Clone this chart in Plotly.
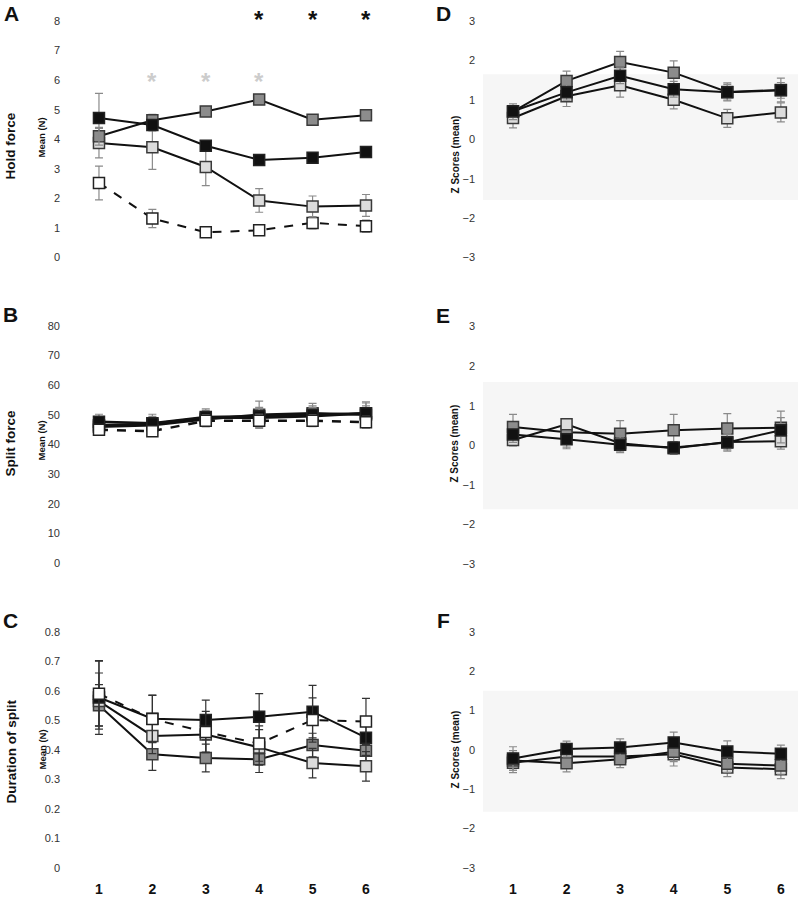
import plotly.graph_objects as go

W, H = 798, 897

sessions = [1, 2, 3, 4, 5, 6]

# A - hold force (N)
hold_white = [2.52, 1.32, 0.85, 0.92, 1.17, 1.06]
hold_white_err = [0.57, 0.31, 0.12, 0.12, 0.2, 0.2]
hold_light = [3.87, 3.73, 3.06, 1.93, 1.72, 1.76]
hold_light_err = [0.5, 0.75, 0.63, 0.4, 0.36, 0.37]
hold_gray = [4.1, 4.64, 4.94, 5.34, 4.66, 4.81]
hold_gray_err = [0.3, 0.2, 0.15, 0.15, 0.12, 0.12]
hold_black = [4.72, 4.48, 3.78, 3.3, 3.37, 3.57]
hold_black_err = [0.83, 0.2, 0.15, 0.12, 0.12, 0.12]
stars_black_x = [4, 5, 6]
stars_gray_x = [2, 3, 4]

# B - split force (N)
split_white = [45.0, 44.5, 48.0, 48.0, 48.0, 47.5]
split_white_err = [1.5, 1.8, 2.0, 2.2, 2.0, 2.0]
split_light = [46.0, 46.5, 48.5, 50.0, 50.5, 50.0]
split_light_err = [2.5, 2.5, 2.5, 4.6, 2.5, 3.0]
split_gray = [46.5, 47.0, 49.0, 49.0, 49.5, 50.5]
split_gray_err = [2.5, 2.5, 2.5, 3.0, 3.0, 3.5]
split_black = [47.7, 47.2, 49.3, 49.5, 50.0, 50.5]
split_black_err = [2.5, 3.0, 2.7, 3.0, 3.9, 3.9]

# C - duration of split
dur_gray = [0.551, 0.385, 0.372, 0.368, 0.416, 0.397]
dur_gray_err = [0.07, 0.055, 0.047, 0.045, 0.04, 0.04]
dur_light = [0.565, 0.447, 0.452, 0.408, 0.355, 0.344]
dur_light_err = [0.095, 0.06, 0.06, 0.06, 0.05, 0.05]
dur_black = [0.577, 0.505, 0.501, 0.512, 0.529, 0.441]
dur_black_err = [0.125, 0.08, 0.067, 0.078, 0.089, 0.06]
dur_white = [0.59, 0.504, 0.46, 0.421, 0.501, 0.496]
dur_white_err = [0.11, 0.08, 0.07, 0.06, 0.075, 0.078]

# D - z scores, hold force
zd_light = [0.54, 1.09, 1.37, 1.0, 0.53, 0.68]
zd_light_err = [0.25, 0.26, 0.3, 0.23, 0.23, 0.24]
zd_gray = [0.7, 1.48, 1.96, 1.69, 1.2, 1.25]
zd_gray_err = [0.2, 0.25, 0.27, 0.3, 0.23, 0.3]
zd_black = [0.71, 1.19, 1.61, 1.27, 1.19, 1.24]
zd_black_err = [0.15, 0.2, 0.2, 0.2, 0.2, 0.2]

# E - z scores, split force
ze_gray = [0.46, 0.33, 0.29, 0.38, 0.42, 0.44]
ze_gray_err = [0.32, 0.25, 0.33, 0.4, 0.38, 0.42]
ze_light = [0.13, 0.53, 0.05, -0.08, 0.08, 0.1]
ze_light_err = [0.15, 0.1, 0.2, 0.15, 0.2, 0.2]
ze_light_err_minus = [0.15, 0.62, 0.2, 0.15, 0.2, 0.2]
ze_black = [0.27, 0.15, 0.01, -0.06, 0.07, 0.38]
ze_black_err = [0.2, 0.2, 0.2, 0.15, 0.22, 0.32]

# F - z scores, duration of split
zf_light = [-0.33, -0.17, -0.17, -0.11, -0.45, -0.49]
zf_light_err = [0.25, 0.2, 0.2, 0.3, 0.23, 0.24]
zf_gray = [-0.27, -0.34, -0.24, -0.05, -0.35, -0.4]
zf_gray_err = [0.25, 0.22, 0.21, 0.25, 0.22, 0.22]
zf_black = [-0.22, 0.02, 0.06, 0.19, -0.04, -0.1]
zf_black_err = [0.3, 0.2, 0.22, 0.26, 0.27, 0.22]

FILLS = {'white': '#ffffff', 'light': '#dcdcdc', 'gray': '#8c8c8c', 'black': '#111111'}
FONT = 'Liberation Sans'


def px(p):
    # pixel -> paper fraction
    return p / W


def py(p):
    return 1 - p / H


def add_series(fig, ax, y, err, kind, dash='solid', err_color='#8a8a8a', lw=2, err_minus=None):
    err_y = dict(type='data', array=err, color=err_color, thickness=1.2, width=4)
    if err_minus is not None:
        err_y['symmetric'] = False
        err_y['arrayminus'] = err_minus
    fig.add_trace(go.Scatter(
        x=sessions, y=y, xaxis='x' + ax, yaxis='y' + ax,
        mode='lines+markers',
        line=dict(color='#111111', width=lw, dash=dash),
        marker=dict(symbol='square', size=11, color=FILLS[kind],
                    line=dict(color='#222222' if kind in ('white', 'black') else '#3a3a3a', width=1.5)),
        error_y=err_y,
        showlegend=False, cliponaxis=False,
    ))


fig = go.Figure()

# A
add_series(fig, '', hold_white, hold_white_err, 'white', dash='dash')
add_series(fig, '', hold_light, hold_light_err, 'light')
add_series(fig, '', hold_gray, hold_gray_err, 'gray')
add_series(fig, '', hold_black, hold_black_err, 'black')
# B
add_series(fig, '2', split_light, split_light_err, 'light', lw=2.5)
add_series(fig, '2', split_gray, split_gray_err, 'gray', lw=2.5)
add_series(fig, '2', split_black, split_black_err, 'black', lw=2.5)
add_series(fig, '2', split_white, split_white_err, 'white', dash='dash', lw=2.5)
# C
add_series(fig, '3', dur_gray, dur_gray_err, 'gray', err_color='#333333')
add_series(fig, '3', dur_light, dur_light_err, 'light', err_color='#333333')
add_series(fig, '3', dur_black, dur_black_err, 'black', err_color='#333333')
add_series(fig, '3', dur_white, dur_white_err, 'white', dash='dash', err_color='#333333')
# D
add_series(fig, '4', zd_light, zd_light_err, 'light')
add_series(fig, '4', zd_gray, zd_gray_err, 'gray')
add_series(fig, '4', zd_black, zd_black_err, 'black')
# E
add_series(fig, '5', ze_gray, ze_gray_err, 'gray')
add_series(fig, '5', ze_light, ze_light_err, 'light', err_minus=ze_light_err_minus)
add_series(fig, '5', ze_black, ze_black_err, 'black')
# F
add_series(fig, '6', zf_light, zf_light_err, 'light')
add_series(fig, '6', zf_gray, zf_gray_err, 'gray')
add_series(fig, '6', zf_black, zf_black_err, 'black')

tickfont = dict(family=FONT, size=11, color='#333333')
base_y = dict(showgrid=False, zeroline=False, showline=False, ticks='', tickfont=tickfont,
              ticklabelstandoff=7)
base_x = dict(showgrid=False, zeroline=False, showline=False, ticks='', tickvals=sessions,
              ticklabelstandoff=0,
              tickfont=dict(family=FONT, size=14, color='#111111', weight='bold'))

left_dom = [px(68), px(390)]
right_dom = [px(483), px(798)]
left_rng = [0.42, 6.45]
right_rng = [0.44, 6.32]

fig.update_layout(
    width=W, height=H,
    margin=dict(l=0, r=0, t=0, b=0),
    paper_bgcolor='white', plot_bgcolor='rgba(0,0,0,0)',
    xaxis=dict(base_x, domain=left_dom, range=left_rng, anchor='y', showticklabels=False),
    xaxis2=dict(base_x, domain=left_dom, range=left_rng, anchor='y2', showticklabels=False),
    xaxis3=dict(base_x, domain=left_dom, range=left_rng, anchor='y3'),
    xaxis4=dict(base_x, domain=right_dom, range=right_rng, anchor='y4', showticklabels=False),
    xaxis5=dict(base_x, domain=right_dom, range=right_rng, anchor='y5', showticklabels=False),
    xaxis6=dict(base_x, domain=right_dom, range=right_rng, anchor='y6'),
    yaxis=dict(base_y, domain=[py(270.2), py(6.2)], range=[-0.4, 8.5], dtick=1, anchor='x'),
    yaxis2=dict(base_y, domain=[py(576.9), py(312.1)], range=[-4, 85], dtick=10, anchor='x2'),
    yaxis3=dict(base_y, domain=[py(882.0), py(619.0)], range=[-0.038, 0.85], dtick=0.1, anchor='x3'),
    yaxis4=dict(base_y, domain=[py(270.2), py(9.2)], range=[-3.3, 3.3], dtick=1, anchor='x4'),
    yaxis5=dict(base_y, domain=[py(577.6), py(315.8)], range=[-3.3, 3.3], dtick=1, anchor='x5'),
    yaxis6=dict(base_y, domain=[py(881.5), py(622.1)], range=[-3.27, 3.3], dtick=1, anchor='x6'),
)

# grey band behind the z-score panels
for ax, lo, hi in [('4', -1.54, 1.65), ('5', -1.62, 1.6), ('6', -1.57, 1.5)]:
    fig.add_shape(type='rect', xref='x' + ax + ' domain', yref='y' + ax,
                  x0=0, x1=1, y0=lo, y1=hi, fillcolor='#f6f6f6', line_width=0, layer='below')

# significance stars
for sx in stars_black_x:
    fig.add_annotation(x=sx, y=8.05, xref='x', yref='y', text='*', showarrow=False,
                       font=dict(family=FONT, size=24, color='#111111', weight='bold'))
for sx in stars_gray_x:
    fig.add_annotation(x=sx, y=5.95, xref='x', yref='y', text='*', showarrow=False,
                       font=dict(family=FONT, size=24, color='#cccccc', weight='bold'))

# panel letters
for letter, lx, ly in [('A', 11, 14), ('B', 10, 316), ('C', 10, 623),
                       ('D', 443, 14), ('E', 443, 317), ('F', 443, 623)]:
    fig.add_annotation(x=px(lx), y=py(ly), xref='paper', yref='paper', text=letter,
                       showarrow=False, xanchor='center', yanchor='middle',
                       font=dict(family=FONT, size=21, color='#111111', weight='bold'))

# row titles
for title, ty in [('Hold force', 147), ('Split force', 445), ('Duration of split', 754)]:
    fig.add_annotation(x=px(11), y=py(ty), xref='paper', yref='paper', text=title,
                       textangle=-90, showarrow=False, xanchor='center', yanchor='middle',
                       font=dict(family=FONT, size=13.5, color='#111111', weight='bold'))

# axis titles
for ty in [138, 442, 752]:
    fig.add_annotation(x=px(42), y=py(ty), xref='paper', yref='paper', text='Mean (N)',
                       textangle=-90, showarrow=False, xanchor='center', yanchor='middle',
                       font=dict(family=FONT, size=9.5, color='#111111', weight='bold'))
for ty in [155, 445, 752]:
    fig.add_annotation(x=px(455), y=py(ty), xref='paper', yref='paper', text='Z Scores (mean)',
                       textangle=-90, showarrow=False, xanchor='center', yanchor='middle',
                       font=dict(family=FONT, size=10, color='#111111', weight='bold'))

# the page body has a default 8px margin; drop it so the figure fills the window
fig.write_html("out.html", config={'displayModeBar': False},
               post_script="document.body.style.margin = '0';")
